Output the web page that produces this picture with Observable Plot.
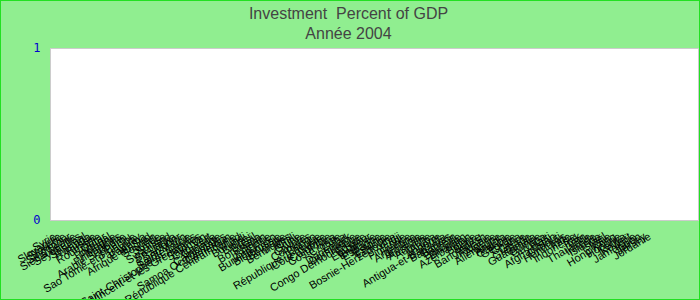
<!DOCTYPE html>
<html>
<head>
<meta charset="utf-8">
<script src="https://cdn.jsdelivr.net/npm/d3@7"></script>
<script src="https://cdn.jsdelivr.net/npm/@observablehq/plot@0.6"></script>
<style>
  html, body { margin: 0; padding: 0; background: #90EE90; }
  svg { display: block; outline: 1px solid #22e022; outline-offset: -1px; }
</style>
</head>
<body>
<div id="chart"></div>
<script>
const titleText = "Investment  Percent of GDP";
const subtitleText = "Année 2004";

const countries = [
  "Syrie","Slovaquie","Slovénie","Singapour","Sierra Leone","Seychelles","Sénégal","Rwanda","Russie","Roumanie",
  "Qatar","Portugal","Pologne","Philippines","Arabie Saoudite","Pérou","Sao Tomé-et-Principe","Paraguay","Panama","Afrique du Sud",
  "Soudan","Suède","Suisse","Swaziland","Sri Lanka","Salvador","Saint-Marin","Sainte-Lucie","Saint-Christophe-et-Niévès","Saint-Vincent-et-les Grenadines",
  "Salomon","Cap-Vert","Canada","Cambodge","Samoa Occidentales","Cameroun","République Centrafricaine","Tchad","Burundi","Brunei",
  "Brésil","Botswana","Bénin","Bulgarie","Burkina Faso","Biélorussie","Belgique","Bermudes","Chili","Chine",
  "Chypre","Comores","Congo","République Tchèque","Côte d'Ivoire","Colombie","Costa Rica","Croatie","Cuba","Danemark",
  "Dominique","Congo Démocratique","Égypte","Équateur","Érythrée","Espagne","Estonie","Éthiopie","Bosnie-Herzégovine","Fidji",
  "Finlande","France","Argentine","Arménie","Australie","Autriche","Aruba","Andorre","Antigua-et-Barbuda","Bahamas",
  "Bahreïn","Barbade","Bhoutan","Azerbaïdjan","Bolivie","Belize","Bangladesh","Albanie","Algérie","Allemagne",
  "Angola","Gambie","Géorgie","Ghana","Grèce","Grenade","Guatemala","Guinée","Guyana","Haïti",
  "Afghanistan","Djibouti","Honduras","Inde","Indonésie","Irak","Iran","Thaïlande","Irlande","Islande",
  "Israël","Italie","Hong Kong","Hongrie","Kenya","Koweït","Jamaïque","Japon","Jersey","Jordanie"
];

const values = [
  0,0,0,0,0,0,0,0,0,0,
  0,0,0,0,0,0,0,0,0,0,
  0,0,0,0,0,0,0,0,0,0,
  0,0,0,0,0,0,0,0,0,0,
  0,0,0,0,0,0,0,0,0,0,
  0,0,0,0,0,0,0,0,0,0,
  0,0,0,0,0,0,0,0,0,0,
  0,0,0,0,0,0,0,0,0,0,
  0,0,0,0,0,0,0,0,0,0,
  0,0,0,0,0,0,0,0,0,0,
  0,0,0,0,0,0,0,0,0,0,
  0,0,0,0,0,0,0,0,0,0
];

const yTicks = [0, 1];

const data = countries.map((c, i) => ({country: c, value: values[i]}));

const chart = Plot.plot({
  width: 700,
  height: 300,
  marginLeft: 50,
  marginRight: 2,
  marginTop: 48,
  marginBottom: 80,
  style: {background: "#90EE90", fontFamily: "Liberation Sans, Arial, sans-serif", overflow: "visible"},
  x: {type: "band", domain: countries, range: [41, 663], padding: 0.1},
  y: {domain: [0, 1]},
  marks: [
    Plot.frame({fill: "white", stroke: "#cccccc"}),
    Plot.barY(data, {x: "country", y: "value", fill: "#4472c4"}),
    Plot.axisY({ticks: yTicks, tickSize: 0, tickPadding: 10, fill: "#0000cc", fontFamily: "DejaVu Sans Mono", fontSize: 12, label: null, tickFormat: d => String(d)}),
    Plot.axisX({tickRotate: -31, tickSize: 0, tickPadding: 15, fontSize: 11, fill: "black", label: null}),
    Plot.text([titleText], {frameAnchor: "top", lineAnchor: "middle", dx: -26, dy: -35, fontSize: 16, fill: "#444444", text: d => d}),
    Plot.text([subtitleText], {frameAnchor: "top", lineAnchor: "middle", dx: -26, dy: -15, fontSize: 16, fill: "#444444", text: d => d})
  ]
});
document.getElementById("chart").appendChild(chart);
</script>
</body>
</html>
